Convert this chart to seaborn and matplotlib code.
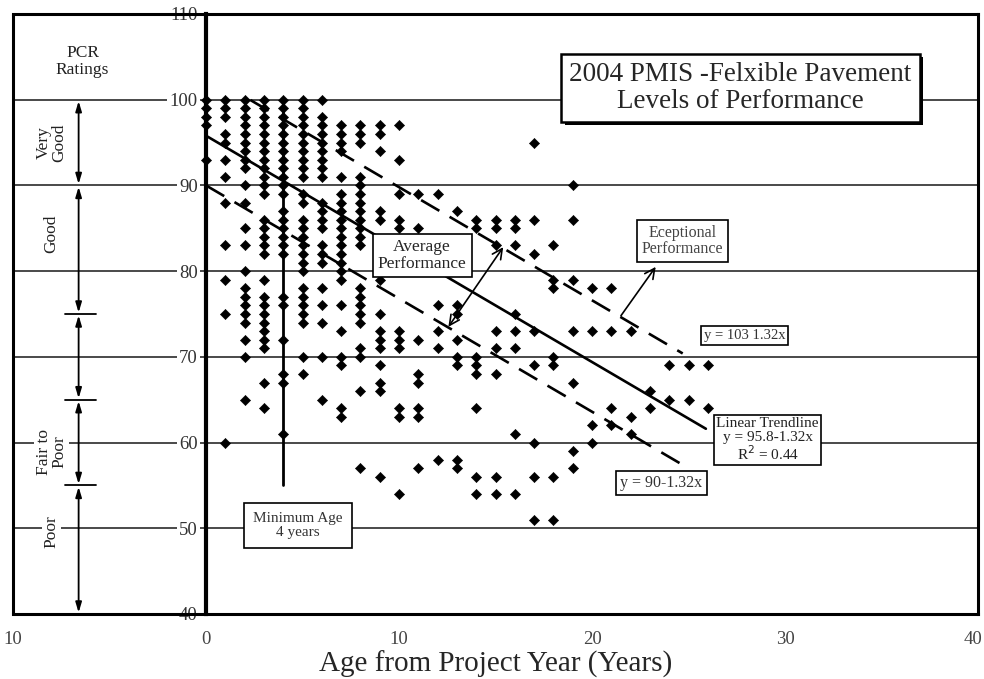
import numpy as np
import pandas as pd
import matplotlib
matplotlib.use("Agg")
import matplotlib.pyplot as plt
import matplotlib.patheffects as pe
import matplotlib.transforms as mtransforms
from matplotlib.ticker import MultipleLocator
import seaborn as sns

# ---------------------------------------------------------------
# PCR readings per age from project year
# ---------------------------------------------------------------
pcr_age00 = [100, 99, 98, 97, 93]
pcr_age01 = [100, 99, 98, 96, 95, 93, 91, 88, 83, 79, 75, 60]
pcr_age02 = [100, 99, 98, 97, 96, 95, 94, 93, 92, 90, 88, 85, 83, 80, 78, 77, 76, 75, 74, 72, 70, 65]
pcr_age03 = [100, 99, 98, 97, 96, 95, 94, 93, 92, 91, 90, 89, 86, 85, 84, 83, 82, 79, 77, 76, 75, 74,
             73, 72, 71, 67, 64]
pcr_age04 = [100, 99, 98, 97, 96, 95, 94, 93, 92, 91, 90, 89, 87, 86, 85, 84, 83, 82, 77, 76, 72, 68, 67, 61]
pcr_age05 = [100, 99, 98, 97, 96, 95, 94, 93, 92, 91, 89, 88, 86, 85, 84, 83, 82, 81, 80, 78, 77, 76,
             75, 74, 70, 68]
pcr_age06 = [100, 98, 97, 96, 95, 94, 93, 92, 91, 88, 87, 86, 85, 83, 82, 81, 78, 76, 74, 70, 65]
pcr_age07 = [97, 96, 95, 94, 91, 89, 88, 87, 86, 85, 84, 83, 82, 81, 80, 79, 76, 73, 70, 69, 64, 63]
pcr_age08 = [97, 96, 95, 91, 90, 89, 88, 87, 86, 85, 84, 83, 78, 77, 76, 75, 74, 71, 70, 66, 57]
pcr_age09 = [97, 96, 94, 87, 86, 79, 75, 73, 72, 71, 69, 67, 66, 56]
pcr_age10 = [97, 93, 89, 86, 85, 73, 72, 71, 64, 63, 54]
pcr_age11 = [89, 85, 72, 68, 67, 64, 63, 57]
pcr_age12 = [89, 76, 73, 71, 58]
pcr_age13 = [87, 76, 75, 72, 70, 69, 58, 57]
pcr_age14 = [86, 85, 70, 69, 68, 64, 56, 54]
pcr_age15 = [86, 85, 83, 73, 71, 68, 56, 54]
pcr_age16 = [86, 85, 83, 75, 73, 71, 61, 54]
pcr_age17 = [95, 86, 82, 73, 69, 60, 56, 51]
pcr_age18 = [83, 79, 78, 70, 69, 56, 51]
pcr_age19 = [90, 86, 79, 73, 67, 59, 57]
pcr_age20 = [78, 73, 62, 60]
pcr_age21 = [78, 73, 64, 62]
pcr_age22 = [73, 63, 61]
pcr_age23 = [66, 64]
pcr_age24 = [69, 65]
pcr_age25 = [69, 65]
pcr_age26 = [69, 64]

# trend lines: y = intercept + slope * x
trend_intercepts = [103.0, 95.8, 90.0]
trend_slope = -1.32
trend_x_start = [2.3, 0.0, 0.0]
trend_x_end = [24.7, 25.9, 24.9]
trend_dashed = [True, False, True]

# PCR rating bands (left margin)
band_bounds = [100, 90, 75, 65, 55, 40]
band_labels = ["Very\nGood", "Good", "Fair to\nPoor", "Poor"]
band_label_y = [95.0, 84.4, 58.9, 49.6]

min_age = 4
min_age_span = (55, 100)

xtick_values = [-10, 0, 10, 20, 30, 40]
xtick_labels = ["10", "0", "10", "20", "30", "40"]
ytick_values = [40, 50, 60, 70, 80, 90, 100, 110]

# ---------------------------------------------------------------
pcr_columns = [pcr_age00, pcr_age01, pcr_age02, pcr_age03, pcr_age04, pcr_age05, pcr_age06,
               pcr_age07, pcr_age08, pcr_age09, pcr_age10, pcr_age11, pcr_age12, pcr_age13,
               pcr_age14, pcr_age15, pcr_age16, pcr_age17, pcr_age18, pcr_age19, pcr_age20,
               pcr_age21, pcr_age22, pcr_age23, pcr_age24, pcr_age25, pcr_age26]
df = pd.DataFrame([(age, v) for age, col in enumerate(pcr_columns) for v in col], columns=["age", "pcr"])

sns.set_theme(style="white")
plt.rcParams["font.family"] = ["Liberation Serif", "DejaVu Serif"]

fig = plt.figure(figsize=(9.84, 6.79), dpi=100)
ax = fig.add_axes([13 / 984, 65 / 679, 965 / 984, 600 / 679])

sns.scatterplot(data=df, x="age", y="pcr", marker="D", s=27, color="black",
                edgecolor="black", linewidth=0.4, ax=ax, zorder=3, legend=False)

for b, x0, x1, dashed in zip(trend_intercepts, trend_x_start, trend_x_end, trend_dashed):
    xs = np.array([x0, x1])
    ax.plot(xs, b + trend_slope * xs, color="black", lw=1.9,
            ls=(0, (8, 4.5)) if dashed else "-", zorder=4)

ax.plot([min_age, min_age], min_age_span, color="black", lw=2.0, zorder=4)

ax.set_xlim(-10, 40)
ax.set_ylim(40, 110)
ax.set_xlabel("Age from Project Year (Years)", fontsize=21, labelpad=2)
ax.set_ylabel("")

# frame: y axis sits at x = 0, separate outer border at x = -10
for s in ["top", "right", "bottom"]:
    ax.spines[s].set_linewidth(2.2)
    ax.spines[s].set_color("black")
ax.spines["left"].set_position(("data", 0))
ax.spines["left"].set_linewidth(3)
ax.spines["left"].set_color("black")
ax.axvline(-10, color="black", lw=2.2, clip_on=False, zorder=2.4)

ax.set_yticks(ytick_values)
ax.yaxis.set_minor_locator(MultipleLocator(2))
ax.set_xticks(xtick_values, labels=xtick_labels)
ax.xaxis.set_minor_locator(MultipleLocator(2))
ax.yaxis.grid(True, color="#3a3a3a", lw=1.3)
ax.xaxis.grid(False)

ax.tick_params(axis="y", which="major", direction="inout", length=12, width=1.5,
               pad=0, labelsize=13.5, labelcolor="#333333", color="black")
ax.tick_params(axis="y", which="minor", direction="inout", length=5, width=1.5, color="black")
ax.tick_params(axis="x", which="major", direction="in", length=6, width=1.5,
               pad=12, labelsize=13.5, labelcolor="#444444", color="black")
ax.tick_params(axis="x", which="minor", direction="in", length=3.5, width=1.5, color="black")
for lbl in ax.get_yticklabels():
    lbl.set_bbox(dict(fc="white", ec="none", pad=1.5))
# keep the last x label inside the canvas
last_xlbl = ax.get_xticklabels()[-1]
last_xlbl.set_horizontalalignment("right")
last_xlbl.set_transform(last_xlbl.get_transform()
                        + mtransforms.ScaledTranslation(3 / 72, 0, fig.dpi_scale_trans))

# rating bands on the left
arrow_x = -6.6
for top, bottom in zip(band_bounds[:-1], band_bounds[1:]):
    ax.annotate("", xy=(arrow_x, bottom), xytext=(arrow_x, top),
                arrowprops=dict(arrowstyle="<|-|>,head_length=0.5,head_width=0.15",
                                color="black", lw=1.3, shrinkA=1, shrinkB=1))
for yb in band_bounds[2:-1]:
    ax.plot([-7.3, -5.7], [yb, yb], color="black", lw=1.3)
for lbl, yl in zip(band_labels, band_label_y):
    ax.text(-8.0, yl, lbl, rotation=90, ha="center", va="center", fontsize=12.5,
            linespacing=1.0, color="#222222", bbox=dict(fc="white", ec="none", pad=1))
ax.text(-6.4, 104.5, "PCR\nRatings", ha="center", va="center", fontsize=12.5,
        linespacing=1.1, color="#222222")

# chart title box with drop shadow
title = ax.text(27.7, 101.4, "2004 PMIS -Felxible Pavement\nLevels of Performance",
                ha="center", va="center", fontsize=19.5, linespacing=1.1, zorder=6,
                bbox=dict(boxstyle="square,pad=0.3", fc="white", ec="black", lw=1.8))
title.get_bbox_patch().set_path_effects([
    pe.SimplePatchShadow(offset=(2.5, -2.5), shadow_rgbFace="black", alpha=1), pe.Normal()])

box = dict(boxstyle="square,pad=0.3", fc="white", ec="black", lw=1.2)
ax.text(11.2, 81.8, "Average\nPerformance", ha="center", va="center", fontsize=12.5,
        linespacing=1.05, zorder=6, bbox=box)
ax.text(24.7, 83.5, "Eceptional\nPerformance", ha="center", va="center", fontsize=11.5,
        linespacing=1.05, color="#444444", zorder=6, bbox=box)
ax.text(4.76, 50.3, "Minimum Age\n4 years", ha="center", va="center", fontsize=11,
        linespacing=1.1, color="#333333", zorder=6, bbox=dict(box, boxstyle="square,pad=0.6"))
ax.text(27.9, 72.5, "y = 103 1.32x", ha="center", va="center", fontsize=10.5,
        color="#333333", zorder=6, bbox=dict(box, boxstyle="square,pad=0.2"))
ax.text(29.1, 60.3, "Linear Trendline\ny = 95.8-1.32x\nR$^2$ = 0.44", ha="center", va="center",
        fontsize=11, linespacing=1.05, color="#222222", zorder=6,
        bbox=dict(box, boxstyle="square,pad=0.15"))
ax.text(23.6, 55.3, "y = 90-1.32x", ha="center", va="center", fontsize=11.5,
        color="#333333", zorder=6, bbox=dict(box, boxstyle="square,pad=0.25"))

ax.annotate("", xy=(15.4, 82.8), xytext=(12.56, 73.5),
            arrowprops=dict(arrowstyle="<->,head_length=0.6,head_width=0.3",
                            color="black", lw=1.2, shrinkA=0, shrinkB=0), zorder=5)
ax.annotate("", xy=(23.3, 80.5), xytext=(21.5, 74.8),
            arrowprops=dict(arrowstyle="->,head_length=0.6,head_width=0.3",
                            color="black", lw=1.2, shrinkA=0, shrinkB=0), zorder=5)

fig.savefig("out.png", dpi=100)
